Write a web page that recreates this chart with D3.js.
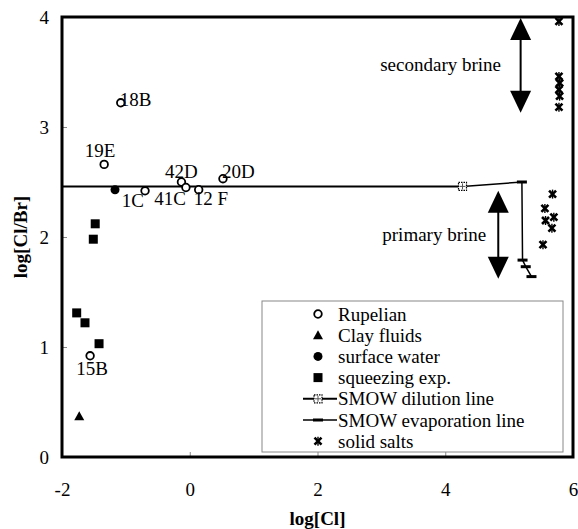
<!DOCTYPE html>
<html>
<head>
<meta charset="utf-8">
<script src="https://cdn.jsdelivr.net/npm/d3@7"></script>
<style>
  body { margin: 0; background: #fff; }
  text { font-family: "Liberation Serif", "Times New Roman", serif; }
</style>
</head>
<body>
<svg width="578" height="529"></svg>
<script>
  // tick values
  const xTicks = [-2, 0, 2, 4, 6];
  const yTicks = [0, 1, 2, 3, 4];

  // series
  const rupelian = [
    { name: "18B", x: -1.08, y: 3.22 },
    { name: "19E", x: -1.34, y: 2.66 },
    { name: "1C", x: -0.7, y: 2.42 },
    { name: "42D", x: -0.13, y: 2.5 },
    { name: "41C", x: -0.06, y: 2.45 },
    { name: "12 F", x: 0.14, y: 2.43 },
    { name: "20D", x: 0.52, y: 2.53 },
    { name: "15B", x: -1.56, y: 0.92 },
  ];
  const clayFluids = [{ x: -1.73, y: 0.37 }];
  const surfaceWater = [{ x: -1.17, y: 2.43 }];
  const squeezing = [
    { x: -1.48, y: 2.12 },
    { x: -1.51, y: 1.98 },
    { x: -1.77, y: 1.31 },
    { x: -1.64, y: 1.22 },
    { x: -1.42, y: 1.03 },
  ];
  const dilutionLine = [
    { x: -2, y: 2.46 },
    { x: 4.27, y: 2.46 },
  ];
  const evaporationLine = [
    { x: 4.27, y: 2.46 },
    { x: 5.2, y: 2.5 },
    { x: 5.21, y: 1.79 },
    { x: 5.26, y: 1.73 },
    { x: 5.35, y: 1.64 },
  ];
  const solidSalts = [
    { x: 5.78, y: 3.96 },
    { x: 5.78, y: 3.46 },
    { x: 5.79, y: 3.4 },
    { x: 5.78, y: 3.34 },
    { x: 5.79, y: 3.28 },
    { x: 5.78, y: 3.18 },
    { x: 5.68, y: 2.39 },
    { x: 5.56, y: 2.26 },
    { x: 5.7, y: 2.18 },
    { x: 5.57, y: 2.15 },
    { x: 5.67, y: 2.08 },
    { x: 5.53, y: 1.93 },
  ];
  const brineArrows = [
    { name: "secondary brine", x: 5.18, top: 3.99, bottom: 3.13 },
    { name: "primary brine", x: 4.83, top: 2.42, bottom: 1.62 },
  ];
  const legendItems = [
    "Rupelian",
    "Clay fluids",
    "surface water",
    "squeezing exp.",
    "SMOW dilution line",
    "SMOW evaporation line",
    "solid salts",
  ];

  // label placement for the Rupelian samples (pixels from the point)
  const labelPos = {
    "18B": { dx: -1, dy: 3, anchor: "start" },
    "19E": { dx: -4, dy: -7, anchor: "middle" },
    "1C": { dx: -1, dy: 16, anchor: "end" },
    "42D": { dx: 0, dy: -4, anchor: "middle" },
    "41C": { dx: 0, dy: 17, anchor: "end" },
    "12 F": { dx: -5, dy: 15, anchor: "start" },
    "20D": { dx: -1, dy: -1, anchor: "start" },
    "15B": { dx: 2, dy: 19, anchor: "middle" },
  };
  // horizontal shift of the arrow captions (px, left of the arrow)
  const captionShift = { "secondary brine": -80, "primary brine": -64 };

  var svg = d3.select("svg");
  var fs = 19;

  var x = d3.scaleLinear().domain([-2, 6]).range([62, 573]);
  var y = d3.scaleLinear().domain([0, 4]).range([457, 17]);

  var plain = function (d) { return String(d); };

  // axes with inward ticks
  var xAxis = svg
    .append("g")
    .attr("transform", "translate(0," + y(0) + ")")
    .call(d3.axisBottom(x).tickValues(xTicks).tickFormat(plain).tickSize(-5).tickPadding(26));
  var yAxis = svg
    .append("g")
    .attr("transform", "translate(" + x(-2) + ",0)")
    .call(d3.axisLeft(y).tickValues(yTicks).tickFormat(plain).tickSize(-5).tickPadding(13));

  [xAxis, yAxis].forEach(function (a) {
    a.select(".domain").remove();
    a.selectAll(".tick line").attr("stroke", "#888").attr("stroke-width", 1);
    a.selectAll(".tick text")
      .attr("fill", "#000")
      .style("font-family", '"Liberation Serif", serif')
      .style("font-size", fs + "px");
  });

  // axis titles
  svg
    .append("text")
    .attr("x", (x(-2) + x(6)) / 2)
    .attr("y", 525)
    .attr("text-anchor", "middle")
    .style("font-size", fs + "px")
    .style("font-weight", "bold")
    .text("log[Cl]");

  svg
    .append("text")
    .attr("transform", "translate(27," + (y(0) + y(4)) / 2 + ") rotate(-90)")
    .attr("text-anchor", "middle")
    .style("font-size", fs + "px")
    .style("font-weight", "bold")
    .text("log[Cl/Br]");

  // legend box (behind the frame)
  var lg = svg.append("g");
  lg.append("rect")
    .attr("x", 262)
    .attr("y", 301)
    .attr("width", 301)
    .attr("height", 151)
    .attr("fill", "#fff")
    .attr("stroke", "#888")
    .attr("stroke-width", 1);

  // lines
  var line = d3
    .line()
    .x(function (d) { return x(d.x); })
    .y(function (d) { return y(d.y); });

  svg.append("path")
    .attr("d", line(dilutionLine))
    .attr("fill", "none")
    .attr("stroke", "#000")
    .attr("stroke-width", 2);

  svg.append("path")
    .attr("d", line(evaporationLine))
    .attr("fill", "none")
    .attr("stroke", "#000")
    .attr("stroke-width", 1.5);

  function dashMark(sel) {
    sel.append("rect")
      .attr("x", -5).attr("y", -1.5)
      .attr("width", 10).attr("height", 3)
      .attr("fill", "#000");
  }
  function dilutionMark(sel) {
    sel.append("rect")
      .attr("x", -4).attr("y", -4)
      .attr("width", 8).attr("height", 8)
      .attr("fill", "#fff")
      .attr("stroke", "#000")
      .attr("stroke-width", 1.2)
      .attr("stroke-dasharray", "1.5,1");
    sel.append("path")
      .attr("d", "M-3,0H3M0,-3V3")
      .attr("stroke", "#555")
      .attr("stroke-width", 1);
  }
  function starMark(sel) {
    sel.append("path")
      .attr("d", "M-3.5,-3.5L3.5,3.5M3.5,-3.5L-3.5,3.5")
      .attr("stroke", "#000")
      .attr("stroke-width", 2.6)
      .attr("fill", "none");
    sel.append("path")
      .attr("d", "M0,-4.5V4.5")
      .attr("stroke", "#000")
      .attr("stroke-width", 1.4);
  }

  svg.selectAll(".evap")
    .data(evaporationLine.slice(1))
    .enter()
    .append("g")
    .attr("transform", function (d) { return "translate(" + x(d.x) + "," + y(d.y) + ")"; })
    .call(dashMark);

  svg.append("g")
    .attr("transform", "translate(" + x(dilutionLine[1].x) + "," + y(dilutionLine[1].y) + ")")
    .call(dilutionMark);

  // arrows
  var arrows = svg.selectAll(".arrow").data(brineArrows).enter().append("g");
  arrows.append("line")
    .attr("x1", function (d) { return x(d.x); })
    .attr("x2", function (d) { return x(d.x); })
    .attr("y1", function (d) { return y(d.top) + 10; })
    .attr("y2", function (d) { return y(d.bottom) - 10; })
    .attr("stroke", "#000")
    .attr("stroke-width", 2);
  arrows.append("path")
    .attr("d", function (d) {
      var cx = x(d.x), t = y(d.top);
      return "M" + cx + "," + t + "L" + (cx + 10.5) + "," + (t + 22) + "L" + (cx - 10.5) + "," + (t + 22) + "Z";
    })
    .attr("fill", "#000");
  arrows.append("path")
    .attr("d", function (d) {
      var cx = x(d.x), b = y(d.bottom);
      return "M" + cx + "," + b + "L" + (cx + 10.5) + "," + (b - 22) + "L" + (cx - 10.5) + "," + (b - 22) + "Z";
    })
    .attr("fill", "#000");
  arrows.append("text")
    .attr("x", function (d) { return x(d.x) + captionShift[d.name]; })
    .attr("y", function (d) { return (y(d.top) + y(d.bottom)) / 2 + 6; })
    .attr("text-anchor", "middle")
    .style("font-size", fs + "px")
    .text(function (d) { return d.name; });

  // points
  svg.selectAll(".sq")
    .data(squeezing)
    .enter()
    .append("rect")
    .attr("x", function (d) { return x(d.x) - 4.5; })
    .attr("y", function (d) { return y(d.y) - 4.5; })
    .attr("width", 9)
    .attr("height", 9)
    .attr("fill", "#000");

  svg.selectAll(".clay")
    .data(clayFluids)
    .enter()
    .append("path")
    .attr("transform", function (d) { return "translate(" + x(d.x) + "," + y(d.y) + ")"; })
    .attr("d", "M0,-5L5,4H-5Z")
    .attr("fill", "#000");

  svg.selectAll(".surf")
    .data(surfaceWater)
    .enter()
    .append("circle")
    .attr("cx", function (d) { return x(d.x); })
    .attr("cy", function (d) { return y(d.y); })
    .attr("r", 4.5)
    .attr("fill", "#000");

  svg.selectAll(".salt")
    .data(solidSalts)
    .enter()
    .append("g")
    .attr("transform", function (d) { return "translate(" + x(d.x) + "," + y(d.y) + ")"; })
    .call(starMark);

  var rup = svg.selectAll(".rup").data(rupelian).enter().append("g");
  rup.append("circle")
    .attr("cx", function (d) { return x(d.x); })
    .attr("cy", function (d) { return y(d.y); })
    .attr("r", 3.8)
    .attr("fill", "#fff")
    .attr("stroke", "#000")
    .attr("stroke-width", 1.8);
  rup.append("text")
    .attr("x", function (d) { return x(d.x) + labelPos[d.name].dx; })
    .attr("y", function (d) { return y(d.y) + labelPos[d.name].dy; })
    .attr("text-anchor", function (d) { return labelPos[d.name].anchor; })
    .style("font-size", fs + "px")
    .text(function (d) { return d.name; });

  // legend entries
  var rowY = function (i) { return 314 + i * 21.2; };
  var mx = 318;
  var items = lg.selectAll(".item").data(legendItems).enter().append("g")
    .attr("transform", function (d, i) { return "translate(0," + rowY(i) + ")"; });
  items.append("text")
    .attr("x", 338)
    .attr("dy", "0.35em")
    .style("font-size", fs + "px")
    .text(function (d) { return d; });

  items.filter(function (d, i) { return i === 0; })
    .append("circle").attr("cx", mx).attr("r", 3.8)
    .attr("fill", "#fff").attr("stroke", "#000").attr("stroke-width", 1.8);
  items.filter(function (d, i) { return i === 1; })
    .append("path").attr("transform", "translate(" + mx + ",0)")
    .attr("d", "M0,-5L5,4H-5Z").attr("fill", "#000");
  items.filter(function (d, i) { return i === 2; })
    .append("circle").attr("cx", mx).attr("r", 4.5).attr("fill", "#000");
  items.filter(function (d, i) { return i === 3; })
    .append("rect").attr("x", mx - 4.5).attr("y", -4.5)
    .attr("width", 9).attr("height", 9).attr("fill", "#000");
  var r4 = items.filter(function (d, i) { return i === 4; });
  r4.append("line").attr("x1", 303).attr("x2", 337)
    .attr("stroke", "#000").attr("stroke-width", 2);
  r4.append("g").attr("transform", "translate(" + mx + ",0)").call(dilutionMark);
  var r5 = items.filter(function (d, i) { return i === 5; });
  r5.append("line").attr("x1", 303).attr("x2", 337)
    .attr("stroke", "#000").attr("stroke-width", 1.5);
  r5.append("g").attr("transform", "translate(" + mx + ",0)").call(dashMark);
  items.filter(function (d, i) { return i === 6; })
    .append("g").attr("transform", "translate(" + mx + ",0)").call(starMark);

  // plot frame
  svg.append("rect")
    .attr("x", x(-2))
    .attr("y", y(4))
    .attr("width", x(6) - x(-2))
    .attr("height", y(0) - y(4))
    .attr("fill", "none")
    .attr("stroke", "#000")
    .attr("stroke-width", 3);
</script>
</body>
</html>
